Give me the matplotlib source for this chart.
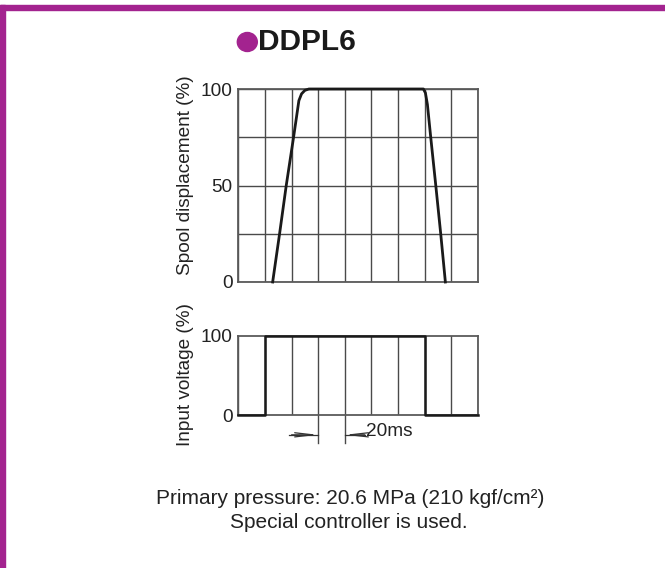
import matplotlib
matplotlib.use('Agg')
import matplotlib.pyplot as plt
from matplotlib.patches import Ellipse, Rectangle

plt.rcParams['font.family'] = ['Liberation Sans', 'DejaVu Sans']

# spool response (time in ms, displacement %)
t_spool = [25.8, 31, 36, 41.5, 45.5, 47.5, 50, 53, 139, 140.5, 142, 144.5, 148.3, 152, 155.5]
spool = [0, 25, 50, 75, 94, 97.5, 99.3, 100, 100, 98, 92, 75, 50, 25, 0]

# input voltage step (time in ms, %)
t_volt = [0, 20, 20, 140, 140, 180]
volt = [0, 0, 100, 100, 0, 0]

x_grid = list(range(0, 181, 20))
y_grid = [0, 25, 50, 75, 100]
y_ticks_top = [0, 50, 100]
y_ticks_bot = [0, 100]

W, H = 665, 568
fig = plt.figure(figsize=(W / 100, H / 100), dpi=100)
fig.patch.set_facecolor('white')

purple = '#A3238F'
grid_c = '#4a4a4a'
frame_c = '#5a5a5a'
fs = 13.7

# border
fig.patches.append(Rectangle((0, 1 - 10 / H), 1, 5 / H, transform=fig.transFigure,
                             color=purple, zorder=0))
fig.patches.append(Rectangle((0, 0), 5 / W, 1 - 5 / H, transform=fig.transFigure,
                             color=purple, zorder=0))

# title
fig.patches.append(Ellipse((247.3 / W, 1 - 42 / H), 20 / W, 19 / H,
                           transform=fig.transFigure, color=purple))
fig.text(258.5 / W, 1 - 42.5 / H, 'DDPL6', fontsize=21.5, fontweight='bold',
         color='#1a1a1a', ha='left', va='center')

L, R = 238.3 / W, 478 / W

# top panel
ax1 = fig.add_axes([L, 1 - 282 / H, R - L, (282 - 89) / H])
for x in x_grid:
    ax1.axvline(x, color=grid_c, lw=1.0, zorder=1)
for y in y_grid:
    ax1.axhline(y, color=grid_c, lw=1.0, zorder=1)
ax1.plot(t_spool, spool, color='#1a1a1a', lw=2.0, zorder=3, clip_on=False)
ax1.set_xlim(0, 180)
ax1.set_ylim(0, 100)
ax1.set_xticks([])
ax1.set_yticks(y_ticks_top)
ax1.set_yticklabels([str(v) for v in y_ticks_top], fontsize=fs, color='#222222')
ax1.tick_params(axis='y', length=0, pad=4)
for s in ax1.spines.values():
    s.set_color(frame_c)
    s.set_linewidth(1.3)

# bottom panel
ax2 = fig.add_axes([L, 1 - 415 / H, R - L, (415 - 335.7) / H])
for x in x_grid:
    ax2.axvline(x, color=grid_c, lw=1.0, zorder=1)
ax2.plot(t_volt, volt, color='#1a1a1a', lw=1.8, zorder=3, clip_on=False)
ax2.set_xlim(0, 180)
ax2.set_ylim(0, 100)
ax2.set_xticks([])
ax2.set_yticks(y_ticks_bot)
ax2.set_yticklabels([str(v) for v in y_ticks_bot], fontsize=fs, color='#222222')
ax2.tick_params(axis='y', length=0, pad=4)
for s in ax2.spines.values():
    s.set_color(frame_c)
    s.set_linewidth(1.3)

# 20ms dimension
for x in [60, 80]:
    ax2.plot([x, x], [0, -35], color=grid_c, lw=1.0, clip_on=False)
ya = -25
ax2.plot([38, 60], [ya, ya], color='#333333', lw=0.9, clip_on=False)
ax2.plot([80, 95], [ya, ya], color='#333333', lw=0.9, clip_on=False)
ax2.annotate('', xy=(60, ya), xytext=(40, ya), xycoords='data',
             arrowprops=dict(arrowstyle='->,head_length=1.3,head_width=0.15',
                             color='#333333', lw=0.9, shrinkA=0, shrinkB=0),
             annotation_clip=False)
ax2.annotate('', xy=(80, ya), xytext=(95, ya), xycoords='data',
             arrowprops=dict(arrowstyle='->,head_length=1.3,head_width=0.15',
                             color='#333333', lw=0.9, shrinkA=0, shrinkB=0),
             annotation_clip=False)
fig.text(366 / W, 1 - 432 / H, '20ms', fontsize=fs, color='#222222',
         ha='left', va='center')

# axis labels
fig.text(185.5 / W, 1 - 175 / H, 'Spool displacement (%)', fontsize=fs,
         rotation=90, ha='center', va='center', color='#222222')
fig.text(185.5 / W, 1 - 375 / H, 'Input voltage (%)', fontsize=fs,
         rotation=90, ha='center', va='center', color='#222222')

# notes
fig.text(350 / W, 1 - 499 / H, 'Primary pressure: 20.6 MPa (210 kgf/cm\u00b2)',
         fontsize=15, ha='center', va='center', color='#222222')
fig.text(349 / W, 1 - 523 / H, 'Special controller is used.',
         fontsize=15, ha='center', va='center', color='#222222')

fig.savefig('out.png', dpi=100)
